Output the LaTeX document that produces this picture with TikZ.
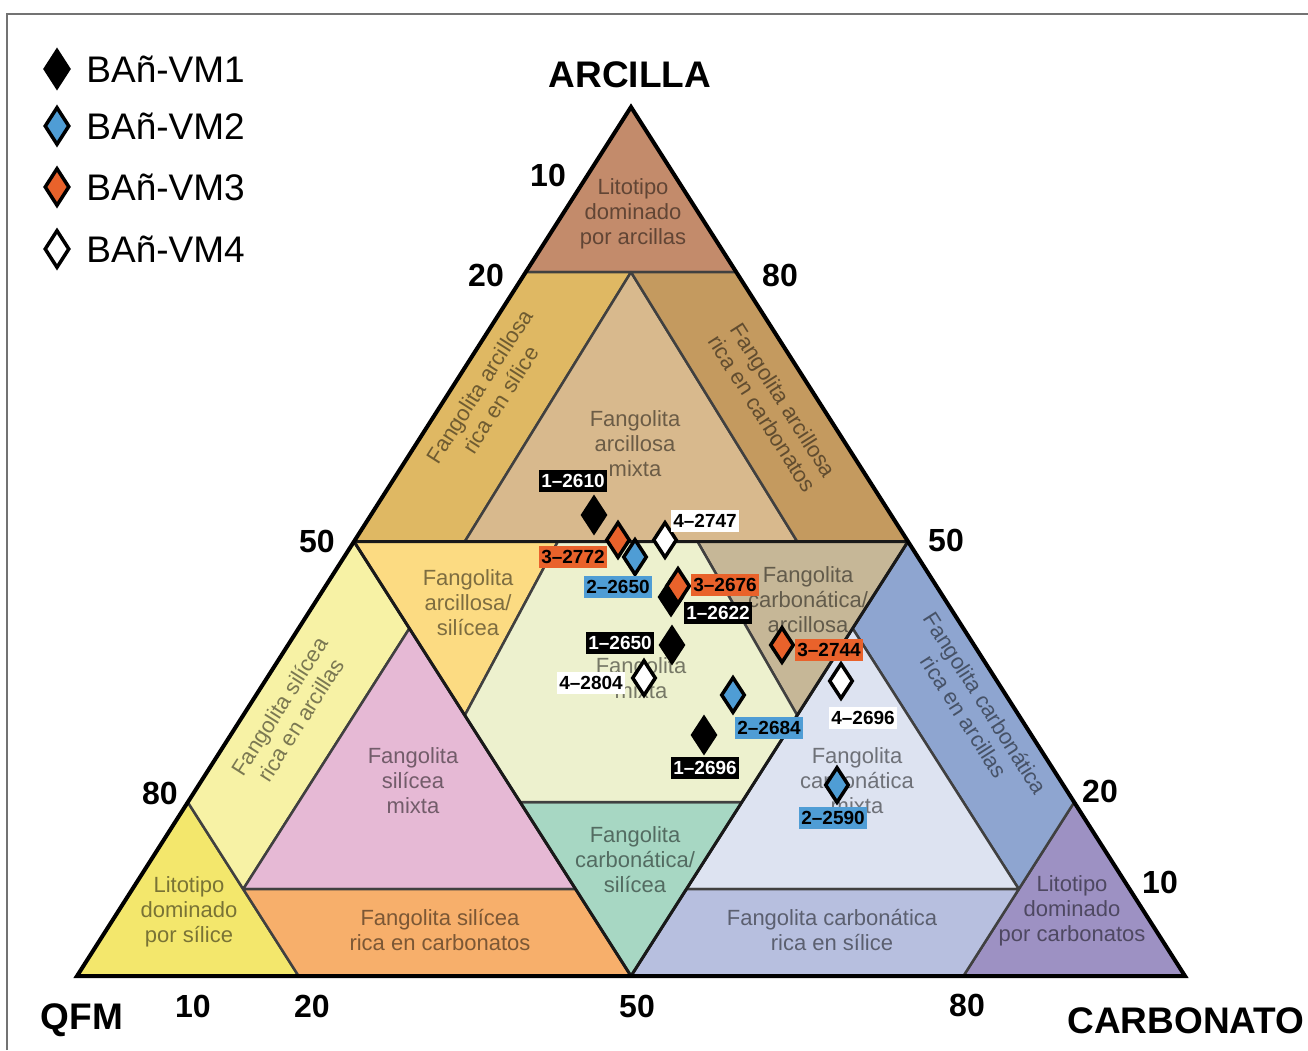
\documentclass[tikz,border=0pt]{standalone}
\usepackage{fontspec}
\setmainfont{Liberation Sans}
\usepackage{tikz}
\usetikzlibrary{
    positioning,
    shapes.geometric
}
\definecolor{cArcDom}{HTML}{C38B6B}
\definecolor{cArcRSil}{HTML}{DFB863}
\definecolor{cArcMix}{HTML}{D8B98D}
\definecolor{cArcRCarb}{HTML}{C49A5F}
\definecolor{cArcSil}{HTML}{FCDB82}
\definecolor{cCarbArc}{HTML}{C6B797}
\definecolor{cMix}{HTML}{EDF1CE}
\definecolor{cSilRArc}{HTML}{F7F2A5}
\definecolor{cSilMix}{HTML}{E6B9D5}
\definecolor{cSilDom}{HTML}{F3E76C}
\definecolor{cSilRCarb}{HTML}{F7AF6B}
\definecolor{cCarbSil}{HTML}{A7D7C3}
\definecolor{cCarbRArc}{HTML}{8EA5D0}
\definecolor{cCarbMix}{HTML}{DDE3F1}
\definecolor{cCarbRSil}{HTML}{B7BFDF}
\definecolor{cCarbDom}{HTML}{9D91C3}
\definecolor{cOrange}{HTML}{E9622B}
\definecolor{cBlue}{HTML}{4F9DD5}
% ternary point: #1 = arcilla, #2 = carbonato
\newcommand{\tern}[2]{({77+1108*(#2)+554*(#1)},{976-869*(#1)})}
\tikzset{
    zone/.style={
        draw=black!75, line width=2.5pt, line join=round, fill=#1
    },
    halfline/.style={
        draw=black!90, line width=3pt, line join=round
    },
    outline/.style={
        draw=black, line width=4pt, line join=miter
    },
    zonetext/.style={
        font=\fontsize{22}{25}\selectfont, text=black, text opacity=0.5,
        align=center, inner sep=0pt
    },
    ticklbl/.style={
        font=\bfseries\fontsize{32}{32}\selectfont, inner sep=0pt
    },
    axislbl/.style={
        font=\bfseries\fontsize{37}{37}\selectfont, inner sep=0pt
    },
    frame/.style={
        draw=black!55, line width=1.5pt
    }
}

\begin{document}
\begin{tikzpicture}[
    x=1pt, y=-1pt,
    sample/.style={diamond, draw=black, line width=3.5pt, inner sep=0pt, minimum width=24pt, minimum height=36pt},
    legsample/.style={sample, minimum width=25pt, minimum height=38pt},
    legtext/.style={font=\fontsize{37}{37}\selectfont, inner sep=3pt},
    labelbox/.style={font=\bfseries\fontsize{19}{19}\selectfont, inner xsep=2pt, inner ysep=0pt, minimum height=22pt},
    lblack/.style={labelbox, fill=black, text=white},
    lorange/.style={labelbox, fill=cOrange, text=black},
    lblue/.style={labelbox, fill=cBlue, text=black},
    lwhite/.style={labelbox, fill=white, text=black}
]
    \useasboundingbox (0,0) rectangle (1308,1050);
    \draw[frame] (7,1050) -- (7,14) -- (1308,14);

    % --- ZONES ---
    \path[zone=cArcDom]   \tern{1}{0} -- \tern{.81}{0} -- \tern{.81}{.19} -- cycle;
    \path[zone=cArcRSil]  \tern{.81}{0} -- \tern{.81}{.095} -- \tern{.5}{.1} -- \tern{.5}{0} -- cycle;
    \path[zone=cArcMix]   \tern{.81}{.095} -- \tern{.5}{.1} -- \tern{.5}{.4} -- cycle;
    \path[zone=cArcRCarb] \tern{.81}{.095} -- \tern{.81}{.19} -- \tern{.5}{.5} -- \tern{.5}{.4} -- cycle;
    \path[zone=cSilDom]   \tern{.2}{0} -- \tern{0}{0} -- \tern{0}{.2} -- cycle;
    \path[zone=cSilRArc]  \tern{.5}{0} -- \tern{.2}{0} -- \tern{.1}{.1} -- \tern{.4}{.1} -- cycle;
    \path[zone=cSilMix]   \tern{.4}{.1} -- \tern{.1}{.1} -- \tern{.1}{.4} -- cycle;
    \path[zone=cSilRCarb] \tern{.1}{.1} -- \tern{0}{.2} -- \tern{0}{.5} -- \tern{.1}{.4} -- cycle;
    \path[zone=cCarbDom]  \tern{.2}{.8} -- \tern{0}{.8} -- \tern{0}{1} -- cycle;
    \path[zone=cCarbRArc] \tern{.5}{.5} -- \tern{.2}{.8} -- \tern{.1}{.8} -- \tern{.4}{.5} -- cycle;
    \path[zone=cCarbMix]  \tern{.4}{.5} -- \tern{.1}{.8} -- \tern{.1}{.5} -- cycle;
    \path[zone=cCarbRSil] \tern{.1}{.5} -- \tern{.1}{.8} -- \tern{0}{.8} -- \tern{0}{.5} -- cycle;
    \path[zone=cArcSil]   \tern{.5}{0} -- \tern{.5}{.184} -- \tern{.3}{.2} -- cycle;
    \path[zone=cCarbArc]  \tern{.5}{.31} -- \tern{.5}{.5} -- \tern{.3}{.5} -- cycle;
    \path[zone=cCarbSil]  \tern{.2}{.3} -- \tern{.2}{.5} -- \tern{0}{.5} -- cycle;
    \path[zone=cMix]      \tern{.5}{.184} -- \tern{.5}{.31} -- \tern{.3}{.5} -- \tern{.2}{.5} -- \tern{.2}{.3} -- \tern{.3}{.2} -- cycle;

    % --- 50% LINES AND OUTLINE ---
    \draw[halfline] \tern{.5}{0} -- \tern{.5}{.5} -- \tern{0}{.5} -- cycle;
    \draw[outline] \tern{1}{0} -- \tern{0}{0} -- \tern{0}{1} -- cycle;

    % --- ZONE NAMES ---
    \node[zonetext] (tArcDom) at (633,214) {Litotipo\\dominado\\por arcillas};
    \node[zonetext, rotate=57.5] (tArcRSil) at (490,393) {Fangolita arcillosa\\rica en sílice};
    \node[zonetext] (tArcMix) at (635,444) {Fangolita\\arcillosa\\mixta};
    \node[zonetext, rotate=-57.5] (tArcRCarb) at (773,407) {Fangolita arcillosa\\rica en carbonatos};
    \node[zonetext] (tArcSil) at (468,603) {Fangolita\\arcillosa/\\silícea};
    \node[zonetext] (tCarbArc) at (808,600) {Fangolita\\carbonática/\\arcillosa};
    \node[zonetext] (tMix) at (641,678) {Fangolita\\mixta};
    \node[zonetext, rotate=57.5] (tSilRArc) at (290,713) {Fangolita silícea\\rica en arcillas};
    \node[zonetext] (tSilMix) at (413,781) {Fangolita\\silícea\\mixta};
    \node[zonetext, rotate=-57.5] (tCarbRArc) at (975,710) {Fangolita carbonática\\rica en arcillas};
    \node[zonetext] (tCarbMix) at (857,781) {Fangolita\\carbonática\\mixta};
    \node[zonetext] (tCarbSil) at (635,860) {Fangolita\\carbonática/\\silícea};
    \node[zonetext] (tSilDom) at (189,912) {Litotipo\\dominado\\por sílice};
    \node[zonetext] (tSilRCarb) at (440,930) {Fangolita silícea\\rica en carbonatos};
    \node[zonetext] (tCarbRSil) at (832,930) {Fangolita carbonática\\rica en sílice};
    \node[zonetext] (tCarbDom) at (1072,911) {Litotipo\\dominado\\por carbonatos};

    % --- AXES AND TICKS ---
    \node[axislbl] (arcilla) at (630,75) {ARCILLA};
    \node[axislbl] (qfm) at (82,1020) {QFM};
    \node[axislbl] (carbonato) at (1186,1021) {CARBONATO};

    \node[ticklbl] (l10) at (548,175) {10};
    \node[ticklbl] (l20) at (486,275) {20};
    \node[ticklbl] (l50) at (317,541) {50};
    \node[ticklbl] (l80) at (160,793) {80};
    \node[ticklbl] (r80) at (780,275) {80};
    \node[ticklbl] (r50) at (946,540) {50};
    \node[ticklbl] (r20) at (1100,791) {20};
    \node[ticklbl] (r10) at (1160,882) {10};
    \node[ticklbl] (b10) at (193,1006) {10};
    \node[ticklbl] (b20) at (312,1006) {20};
    \node[ticklbl] (b50) at (637,1006) {50};
    \node[ticklbl] (b80) at (967,1005) {80};

    % --- SAMPLES ---
    \node[sample, fill=black] (s12610) at (594,515) {};
    \node[sample, fill=cOrange] (s32772) at (618,540) {};
    \node[sample, fill=cBlue] (s22650) at (635,557) {};
    \node[sample, fill=white] (s42747) at (665,540) {};
    \node[sample, fill=black] (s12622) at (671,597) {};
    \node[sample, fill=cOrange] (s32676) at (678,586) {};
    \node[sample, fill=black] (s12650) at (672,645) {};
    \node[sample, fill=white] (s42804) at (644,678) {};
    \node[sample, fill=cBlue] (s22684) at (733,695) {};
    \node[sample, fill=black] (s12696) at (704,735) {};
    \node[sample, fill=cOrange] (s32744) at (782,645) {};
    \node[sample, fill=white] (s42696) at (841,681) {};
    \node[sample, fill=cBlue] (s22590) at (837,785) {};

    \node[lblack] (l12610) at (573,481) {1–2610};
    \node[lorange] (l32772) at (573,557) {3–2772};
    \node[lblue] (l22650) at (618,587) {2–2650};
    \node[lwhite] (l42747) at (705,521) {4–2747};
    \node[lblack] (l12622) at (718,613) {1–2622};
    \node[lorange] (l32676) at (725,585) {3–2676};
    \node[lblack] (l12650) at (620,643) {1–2650};
    \node[lwhite] (l42804) at (591,683) {4–2804};
    \node[lblue] (l22684) at (769,728) {2–2684};
    \node[lblack] (l12696) at (705,768) {1–2696};
    \node[lorange] (l32744) at (829,650) {3–2744};
    \node[lwhite] (l42696) at (863,718) {4–2696};
    \node[lblue] (l22590) at (833,818) {2–2590};

    % --- LEGEND ---
    \node[legsample, fill=black] (lgVM1) at (57,69) {};
    \node[legsample, fill=cBlue] (lgVM2) at (57,126) {};
    \node[legsample, fill=cOrange] (lgVM3) at (57,187) {};
    \node[legsample, fill=white] (lgVM4) at (57,249) {};
    \node[legtext, right=12pt of lgVM1] (txVM1) {BAñ-VM1};
    \node[legtext, right=12pt of lgVM2] (txVM2) {BAñ-VM2};
    \node[legtext, right=12pt of lgVM3] (txVM3) {BAñ-VM3};
    \node[legtext, right=12pt of lgVM4] (txVM4) {BAñ-VM4};

\end{tikzpicture}
\end{document}
